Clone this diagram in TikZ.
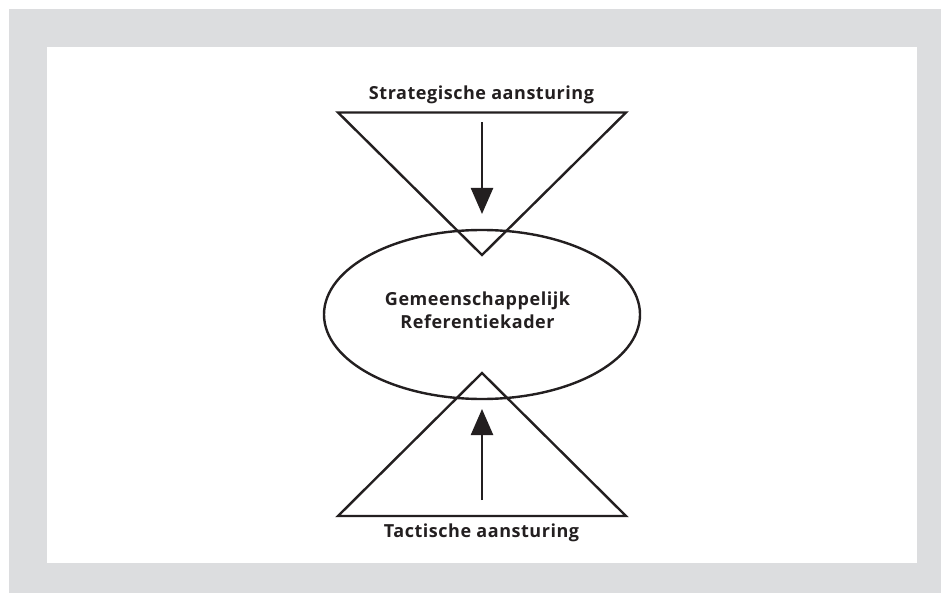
\documentclass[tikz,border=0pt]{standalone}
\usepackage{fontspec}
\setmainfont{Open Sans}[LetterSpace=3]
\usetikzlibrary{shapes.geometric,arrows.meta}
\definecolor{framegray}{HTML}{DCDDDF}
\definecolor{ink}{HTML}{231F20}
\tikzset{
  outline/.style={draw=ink, line width=2.4pt, line join=miter},
  label/.style={text=ink, font=\fontsize{18}{23}\selectfont\bfseries, inner sep=0pt, anchor=base},
  flow/.style={draw=ink, line width=2.4pt, -{Triangle[length=26pt,width=22pt]}}
}
\begin{document}
\begin{tikzpicture}[x=1pt,y=-1pt]
  \useasboundingbox (0,0) rectangle (941,593);
  % frame
  \fill[framegray] (9,9) rectangle (941,593);
  \fill[white] (47,47) rectangle (917,563);

  % corner points of the two triangles
  \coordinate (tl) at (338,112.5);
  \coordinate (tr) at (626,112.5);
  \coordinate (ta) at (482,255);
  \coordinate (bl) at (338,516);
  \coordinate (br) at (626,516);
  \coordinate (ba) at (482,373);

  % central ellipse
  \node[outline, ellipse, minimum width=316pt, minimum height=169pt, inner sep=0pt]
    (kader) at (482,314.5) {};
  \node[label, align=center] (kadertxt) at (477.5,328)
    {Gemeenschappelijk\\Referentiekader};

  % triangles
  \draw[outline] (tl) -- (tr) -- (ta) -- cycle;
  \draw[outline] (bl) -- (br) -- (ba) -- cycle;

  % labels
  \node[label] (strat) at (481.5,100) {Strategische aansturing};
  \node[label] (tact) at (481.5,537) {Tactische aansturing};

  % arrows
  \coordinate (s0) at (482,122.5);
  \coordinate (s1) at (482,214);
  \coordinate (t0) at (482,500);
  \coordinate (t1) at (482,409);
  \draw[flow] (s0) -- (s1);
  \draw[flow] (t0) -- (t1);
\end{tikzpicture}
\end{document}
